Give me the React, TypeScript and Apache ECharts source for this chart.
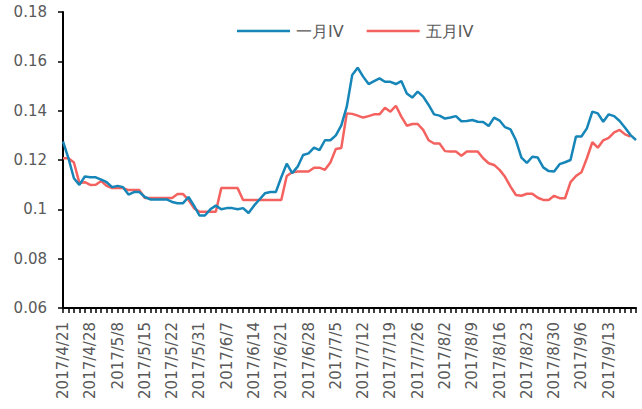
import React, { useEffect, useRef } from "react";
import * as echarts from "echarts";

const dates: string[] = [
  "2017/4/21", "2017/4/24", "2017/4/25", "2017/4/26", "2017/4/27", "2017/4/28",
  "2017/5/2", "2017/5/3", "2017/5/4", "2017/5/5", "2017/5/8", "2017/5/9", "2017/5/10", "2017/5/11", "2017/5/12",
  "2017/5/15", "2017/5/16", "2017/5/17", "2017/5/18", "2017/5/19",
  "2017/5/22", "2017/5/23", "2017/5/24", "2017/5/25", "2017/5/26", "2017/5/31",
  "2017/6/1", "2017/6/2", "2017/6/5", "2017/6/6", "2017/6/7", "2017/6/8", "2017/6/9",
  "2017/6/12", "2017/6/13", "2017/6/14", "2017/6/15", "2017/6/16",
  "2017/6/19", "2017/6/20", "2017/6/21", "2017/6/22", "2017/6/23",
  "2017/6/26", "2017/6/27", "2017/6/28", "2017/6/29", "2017/6/30",
  "2017/7/3", "2017/7/4", "2017/7/5", "2017/7/6", "2017/7/7",
  "2017/7/10", "2017/7/11", "2017/7/12", "2017/7/13", "2017/7/14",
  "2017/7/17", "2017/7/18", "2017/7/19", "2017/7/20", "2017/7/21",
  "2017/7/24", "2017/7/25", "2017/7/26", "2017/7/27", "2017/7/28",
  "2017/7/31", "2017/8/1", "2017/8/2", "2017/8/3", "2017/8/4",
  "2017/8/7", "2017/8/8", "2017/8/9", "2017/8/10", "2017/8/11",
  "2017/8/14", "2017/8/15", "2017/8/16", "2017/8/17", "2017/8/18",
  "2017/8/21", "2017/8/22", "2017/8/23", "2017/8/24", "2017/8/25",
  "2017/8/28", "2017/8/29", "2017/8/30", "2017/8/31", "2017/9/1",
  "2017/9/4", "2017/9/5", "2017/9/6", "2017/9/7", "2017/9/8",
  "2017/9/11", "2017/9/12", "2017/9/13", "2017/9/14", "2017/9/15",
  "2017/9/18", "2017/9/19", "2017/9/20",
];

const janIV: number[] = [
  0.1275, 0.1207, 0.1126, 0.1099, 0.1133, 0.113, 0.113, 0.112, 0.111, 0.109,
  0.1095, 0.109, 0.106, 0.107, 0.107, 0.105, 0.104, 0.104, 0.104, 0.104,
  0.103, 0.1025, 0.1025, 0.105, 0.1015, 0.0975, 0.0975, 0.1, 0.1015, 0.1,
  0.1005, 0.1005, 0.1, 0.1005, 0.0985, 0.1015, 0.104, 0.1065, 0.107, 0.107,
  0.113, 0.1185, 0.1147, 0.1173, 0.122, 0.1227, 0.125, 0.124, 0.128, 0.128,
  0.13, 0.134, 0.1416, 0.1545, 0.1574, 0.1538, 0.1508, 0.152, 0.1531, 0.1517,
  0.1517, 0.1508, 0.152, 0.147, 0.1453, 0.1477, 0.1457, 0.1423, 0.1385, 0.138,
  0.1368, 0.1372, 0.1378, 0.1357, 0.1358, 0.1362, 0.1355, 0.1354, 0.1338, 0.1372,
  0.136, 0.1333, 0.1324, 0.128, 0.121, 0.1188, 0.1213, 0.121, 0.117, 0.1155,
  0.1153, 0.1183, 0.1191, 0.12, 0.1295, 0.1295, 0.1328, 0.1396, 0.1389, 0.1355,
  0.1385, 0.1378, 0.1358, 0.1331, 0.1301, 0.1281,
];

const mayIV: (number | null)[] = [
  0.1207, 0.1207, 0.119, 0.1107, 0.111, 0.1099, 0.11, 0.1115, 0.1095, 0.1086,
  0.1086, 0.1086, 0.1078, 0.1078, 0.1078, 0.1046, 0.1046, 0.1046, 0.1046, 0.1046,
  0.1046, 0.1062, 0.1062, 0.1038, 0.1005, 0.099, 0.099, 0.099, 0.099, 0.1086,
  0.1086, 0.1086, 0.1086, 0.1038, 0.1038, 0.1038, 0.1038, 0.1038, 0.1038, 0.1038,
  0.1038, 0.1135, 0.115, 0.1153, 0.1153, 0.1153, 0.1169, 0.1169, 0.116, 0.119,
  0.1245, 0.1249, 0.1389, 0.1387, 0.138, 0.1372, 0.1378, 0.1385, 0.1385, 0.1412,
  0.1396, 0.142, 0.1376, 0.1339, 0.1346, 0.1346, 0.1322, 0.128, 0.1267, 0.1267,
  0.1236, 0.1234, 0.1234, 0.1217, 0.1234, 0.1234, 0.1234, 0.1207, 0.1187, 0.118,
  0.116, 0.1132, 0.1092, 0.1058, 0.1055, 0.1063, 0.1063, 0.1047, 0.1038, 0.1038,
  0.1055, 0.1045, 0.1045, 0.111, 0.1135, 0.115, 0.1207, 0.1272, 0.125, 0.128,
  0.129, 0.1312, 0.1322, 0.1304, 0.1295, null,
];

const seriesNames = ["一月IV", "五月IV"];
const yTicks = { min: 0.06, max: 0.18, interval: 0.02 };
const labelEvery = 5;
const lastLabelIndex = 100;

const FONT = "DejaVu Sans";
const TEXT = "#595959";

export default function App() {
  const ref = useRef<HTMLDivElement>(null);
  useEffect(() => {
    if (!ref.current) return;
    const chart = echarts.init(ref.current, undefined, { renderer: "svg" });
    chart.setOption({
      animation: false,
      backgroundColor: "#ffffff",
      grid: { left: 63, right: 6, top: 12, bottom: 101, containLabel: false },
      legend: {
        data: seriesNames,
        left: 237,
        top: 23,
        padding: 0,
        icon: "rect",
        itemWidth: 53,
        itemHeight: 2.5,
        itemGap: 23,
        textStyle: { color: TEXT, fontSize: 16, fontFamily: FONT, padding: [0, 0, 0, 1] },
      },
      xAxis: {
        type: "category",
        data: dates,
        boundaryGap: false,
        axisLine: { show: true, lineStyle: { color: "#000", width: 2 } },
        axisTick: { show: true, interval: 0, length: 5, lineStyle: { color: "#000", width: 1.5 } },
        axisLabel: {
          interval: (i: number) => i % labelEvery === 0 && i <= lastLabelIndex,
          rotate: 90,
          margin: 14,
          color: TEXT,
          fontSize: 15,
          fontFamily: FONT,
        },
        splitLine: { show: false },
      },
      yAxis: {
        type: "value",
        min: yTicks.min,
        max: yTicks.max,
        interval: yTicks.interval,
        axisLine: { show: true, lineStyle: { color: "#000", width: 2 } },
        axisTick: { show: true, length: 5, lineStyle: { color: "#000", width: 1.5 } },
        axisLabel: { margin: 16, color: TEXT, fontSize: 15, fontFamily: FONT },
        splitLine: { show: false },
      },
      series: [
        {
          name: seriesNames[0],
          type: "line",
          data: janIV,
          symbol: "none",
          lineStyle: { color: "#1685B8", width: 2.5 },
          itemStyle: { color: "#1685B8" },
          z: 3,
        },
        {
          name: seriesNames[1],
          type: "line",
          data: mayIV,
          symbol: "none",
          lineStyle: { color: "#F4625F", width: 2.5 },
          itemStyle: { color: "#F4625F" },
          z: 2,
        },
      ],
    });
    return () => chart.dispose();
  }, []);
  return (
    <div
      ref={ref}
      style={{ position: "fixed", left: 0, top: 0, width: 642, height: 409, background: "#fff" }}
    />
  );
}
